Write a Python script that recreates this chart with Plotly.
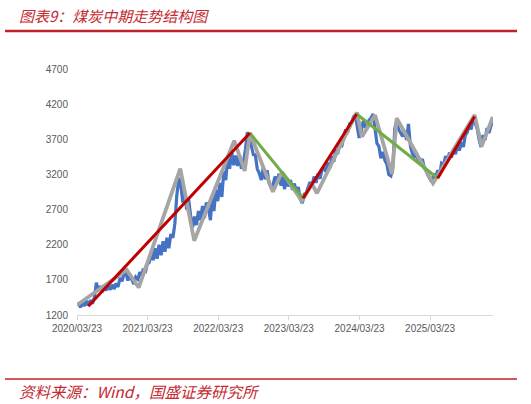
import pandas as pd
import plotly.graph_objects as go

# ---------------- data ----------------
blue_start = ("2020-03-23", 1370)
blue_month_vals = [
    ("2020-04", [1350, 1310, 1380]), ("2020-05", [1330, 1400, 1340]), ("2020-06", [1410, 1360, 1450]),
    ("2020-07", [1660, 1550, 1610]), ("2020-08", [1530, 1600, 1550]), ("2020-09", [1610, 1560, 1630]),
    ("2020-10", [1570, 1650, 1600]), ("2020-11", [1730, 1680, 1790]), ("2020-12", [1800, 1690, 1770]),
    ("2021-01", [1700, 1640, 1740]), ("2021-02", [1710, 1810, 1760]), ("2021-03", [1860, 1800, 1920]),
    ("2021-04", [1950, 2100, 1980]), ("2021-05", [2150, 2000, 2200]), ("2021-06", [2050, 2250, 2100]),
    ("2021-07", [2300, 2150, 2350]), ("2021-08", [2300, 2500, 2900]), ("2021-09", [3150, 3050, 2800]),
    ("2021-10", [2950, 2700, 2850]), ("2021-11", [2600, 2450, 2600]), ("2021-12", [2480, 2680, 2550]),
    ("2022-01", [2750, 2580, 2800]), ("2022-02", [2700, 2550, 2900]), ("2022-03", [2680, 2980, 2820]),
    ("2022-04", [3080, 2880, 3250]), ("2022-05", [3120, 3420, 3280]), ("2022-06", [3520, 3330, 3470]),
    ("2022-07", [3320, 3480, 3280]), ("2022-08", [3380, 3560, 3800]), ("2022-09", [3720, 3600, 3480]),
    ("2022-10", [3480, 3280, 3220]), ("2022-11", [3120, 3300, 3130]), ("2022-12", [3260, 3080, 3010]),
    ("2023-01", [3060, 3170, 3080]), ("2023-02", [3210, 3040, 3170]), ("2023-03", [2990, 3160, 3030]),
    ("2023-04", [3120, 2980, 3070]), ("2023-05", [2940, 3020, 2850]), ("2023-06", [2790, 2920, 2940]),
    ("2023-07", [3020, 3090, 3040]), ("2023-08", [3170, 3080, 3210]), ("2023-09", [3140, 3270, 3290]),
    ("2023-10", [3240, 3370, 3290]), ("2023-11", [3460, 3380, 3560]), ("2023-12", [3490, 3670, 3590]),
    ("2024-01", [3720, 3840, 3790]), ("2024-02", [3920, 3940, 4020]), ("2024-03", [4050, 3880, 3720]),
    ("2024-04", [3820, 3960, 3880]), ("2024-05", [3850, 3970, 4000]), ("2024-06", [4060, 3800, 3640]),
    ("2024-07", [3600, 3430, 3520]), ("2024-08", [3400, 3350, 3200]), ("2024-09", [3180, 3300, 3850]),
    ("2024-10", [3960, 3840, 3800]), ("2024-11", [3740, 3820, 3690]), ("2024-12", [3920, 3600, 3500]),
    ("2025-01", [3440, 3510, 3390]), ("2025-02", [3360, 3420, 3290]), ("2025-03", [3260, 3190, 3150]),
    ("2025-04", [3090, 3210, 3140]), ("2025-05", [3260, 3190, 3360]), ("2025-06", [3340, 3460, 3390]),
    ("2025-07", [3510, 3440, 3560]), ("2025-08", [3490, 3610, 3540]), ("2025-09", [3660, 3590, 3760]),
    ("2025-10", [3800, 3910, 3840]), ("2025-11", [4010, 3940, 3850]), ("2025-12", [3700, 3590, 3760]),
    ("2026-01", [3690, 3860, 3790]),
]
blue_end = [("2026-02-01", 3900), ("2026-02-10", 3950)]
sample_days = ["01", "11", "21"]

# Gray: swing (zigzag) structure
gray_dates = ["2020-03-23", "2020-12-05", "2021-02-05", "2021-09-08", "2021-11-19", "2022-06-14",
              "2022-08-07", "2022-09-03", "2022-12-31", "2023-02-16", "2023-05-30", "2023-07-21",
              "2023-08-16", "2024-03-09", "2024-04-04", "2024-06-11", "2024-09-07", "2024-10-01",
              "2025-04-07", "2025-11-08", "2025-12-14", "2026-02-10"]
gray_vals = [1342, 1840, 1591, 3284, 2257, 3680, 3249, 3789, 2954, 3235, 2822, 3064,
             2932, 4081, 3737, 4046, 3206, 3999, 3074, 4046, 3600, 4017]

# Red (up-trends) and green (down-trends) medium-term segments
red_segments = [
    (["2020-05-20", "2022-09-03"], [1324, 3789]),
    (["2023-06-05", "2024-03-08"], [2861, 4060]),
    (["2025-05-01", "2025-11-08"], [3145, 4025]),
]
green_segments = [
    (["2022-09-03", "2023-06-05"], [3789, 2861]),
    (["2024-03-08", "2025-05-01"], [4060, 3145]),
]

x_tick_vals = ["2020-03-23", "2021-03-23", "2022-03-23", "2023-03-23", "2024-03-23", "2025-03-23"]
x_tick_text = ["2020/03/23", "2021/03/23", "2022/03/23", "2023/03/23", "2024/03/23", "2025/03/23"]
y_tick_vals = [1200, 1700, 2200, 2700, 3200, 3700, 4200, 4700]

title_text = "图表9：煤炭中期走势结构图"
source_text = "资料来源：Wind，国盛证券研究所"

# ---------------- build ----------------
blue_x = [blue_start[0]]
blue_y = [blue_start[1]]
for month, vals in blue_month_vals:
    for d, v in zip(sample_days, vals):
        blue_x.append(f"{month}-{d}")
        blue_y.append(v)
for d, v in blue_end:
    blue_x.append(d)
    blue_y.append(v)

RED = "#C00000"
GREEN = "#70AD47"
BLUE = "#4472C4"
GRAY = "#A5A5A5"
TXT_RED = "#C42A31"

fig = go.Figure()
fig.add_trace(go.Scatter(x=blue_x, y=blue_y, mode="lines",
                         line=dict(color=BLUE, width=3.2), hoverinfo="skip"))
fig.add_trace(go.Scatter(x=gray_dates, y=gray_vals, mode="lines",
                         line=dict(color=GRAY, width=3.8), hoverinfo="skip"))
for xs, ys in green_segments:
    fig.add_trace(go.Scatter(x=xs, y=ys, mode="lines",
                             line=dict(color=GREEN, width=3), hoverinfo="skip"))
for xs, ys in red_segments:
    fig.add_trace(go.Scatter(x=xs, y=ys, mode="lines",
                             line=dict(color=RED, width=3), hoverinfo="skip"))

L, R, T, B = 77, 38, 69, 89
W, H = 531, 404
pw = W - L - R
ph = H - T - B


def px_x(p):
    return (p - L) / pw


def px_y(p):
    return (H - B - p) / ph


tick_font = dict(family="Liberation Sans, Arial, sans-serif", size=10, color="#595959")
cjk = "Noto Sans CJK SC, sans-serif"

fig.update_layout(
    width=W, height=H,
    margin=dict(l=L, r=R, t=T, b=B),
    paper_bgcolor="white", plot_bgcolor="white",
    showlegend=False,
    xaxis=dict(type="date", range=["2020-03-23", "2026-02-11"],
               tickvals=x_tick_vals, ticktext=x_tick_text, tickfont=tick_font,
               showgrid=False, zeroline=False, showline=True, linecolor="#D9D9D9", linewidth=1,
               ticks="outside", ticklen=4, tickcolor="#D9D9D9"),
    yaxis=dict(range=[1200, 4700], tickvals=y_tick_vals, tickfont=tick_font,
               showgrid=False, zeroline=False, showline=False, ticks="",
               ticklabelstandoff=8),
    shapes=[
        dict(type="line", xref="paper", yref="paper", x0=px_x(5), x1=px_x(517),
             y0=px_y(31), y1=px_y(31), line=dict(color="#C0222B", width=2.5)),
        dict(type="line", xref="paper", yref="paper", x0=px_x(5), x1=px_x(517),
             y0=px_y(379), y1=px_y(379), line=dict(color="#C0222B", width=1.5)),
    ],
    annotations=[
        dict(text=f"<i>{title_text}</i>", xref="paper", yref="paper",
             x=px_x(17), y=px_y(15), xanchor="left", yanchor="middle", showarrow=False,
             font=dict(family=cjk, size=15, color=TXT_RED)),
        dict(text=f"<i>{source_text}</i>", xref="paper", yref="paper",
             x=px_x(17), y=px_y(391), xanchor="left", yanchor="middle", showarrow=False,
             font=dict(family=cjk, size=15.5, color=TXT_RED)),
    ],
)

fig.write_html("out.html", config={"displayModeBar": False},
               post_script="document.body.style.margin='0';")
